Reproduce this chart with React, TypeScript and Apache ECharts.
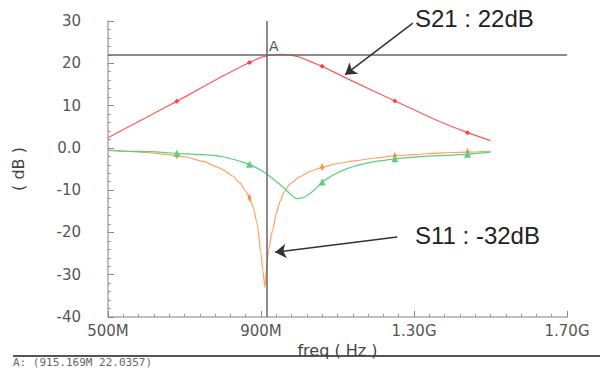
import React, { useEffect, useRef } from "react";
import * as echarts from "echarts";

// Frequency in MHz, values in dB
const freqS21 = [500, 550, 600, 650, 680, 700, 750, 800, 850, 870, 900, 925, 950, 975, 1000, 1030, 1060, 1100, 1150, 1200, 1250, 1300, 1350, 1400, 1440, 1500];
const valS21 = [2.4, 4.8, 7.2, 9.6, 11.0, 12.0, 14.5, 17.0, 19.3, 20.2, 21.4, 21.95, 22.1, 22.0, 21.5, 20.4, 19.3, 17.5, 15.3, 13.2, 11.1, 9.0, 6.9, 5.0, 3.6, 1.7];

const freqS11 = [500, 550, 600, 650, 680, 700, 750, 785, 800, 825, 845, 860, 870, 880, 890, 900, 905, 910, 915, 920, 930, 940, 950, 960, 975, 1000, 1030, 1060, 1100, 1150, 1200, 1250, 1300, 1350, 1400, 1440, 1500];
const valS11 = [-0.6, -0.8, -1.1, -1.5, -1.8, -2.1, -3.2, -4.5, -5.2, -6.6, -8.3, -10.2, -11.8, -14.2, -18, -25, -29, -33, -28, -24, -19.5, -15.5, -12.6, -10.5, -8.6, -6.9, -5.5, -4.6, -3.7, -3.0, -2.4, -1.9, -1.6, -1.3, -1.1, -1.0, -0.8];

const freqS22 = [500, 550, 600, 650, 680, 700, 750, 800, 850, 870, 900, 915, 940, 960, 980, 993, 1005, 1020, 1040, 1060, 1080, 1100, 1125, 1150, 1177, 1210, 1250, 1300, 1350, 1400, 1440, 1500];
const valS22 = [-0.6, -0.8, -0.9, -1.1, -1.3, -1.4, -1.6, -2.1, -3.3, -3.9, -5.3, -6.2, -8.0, -9.5, -11.2, -12.0, -11.9, -11.3, -9.9, -8.1, -6.9, -5.9, -4.9, -4.2, -3.6, -3.1, -2.6, -2.2, -1.9, -1.7, -1.5, -1.0];

const markerFreqs = [680, 870, 1060, 1250, 1440];

const xMajorTicks = [500, 900, 1300, 1700];
const xMinorStep = 40;
const yTickInterval = 10;

const cursorA = { freq: 915.169, dB: 22.0357 };
const s21Arrow = { from: [1297, 29.5], to: [1120, 17.3] };
const s11Arrow = { from: [1256, -21.1], to: [937, -24.7] };

const xMinorTicks: number[] = [];
for (let v = xMajorTicks[0]; v <= xMajorTicks[xMajorTicks.length - 1]; v += xMinorStep) {
  if (!xMajorTicks.includes(v)) xMinorTicks.push(v);
}

function buildData(freq: number[], vals: number[], symbol: string, size: any) {
  return freq.map((f, i) =>
    markerFreqs.includes(f)
      ? { value: [f, vals[i]], symbol, symbolSize: size }
      : { value: [f, vals[i]], symbol: "none" }
  );
}

const fmtX = (v: number) => (v < 1000 ? `${v}M` : `${(v / 1000).toFixed(2)}G`);
const fmtY = (v: number) => (v === 0 ? "0.0" : String(v));

const labelFont = "DejaVu Sans";

export default function App() {
  const ref = useRef<HTMLDivElement>(null);
  useEffect(() => {
    const chart = echarts.init(ref.current!, null, { renderer: "svg" });
    const arrowLine = (a: { from: number[]; to: number[] }) => [
      { coord: a.from, symbol: "none" },
      { coord: a.to, symbol: "arrow", symbolSize: 11 },
    ];
    const option: any = {
      animation: false,
      backgroundColor: "#ffffff",
      grid: { left: 108, right: 37, top: 21, bottom: 52 },
      xAxis: [
        {
          type: "value",
          min: 500,
          max: 1700,
          name: "freq ( Hz )",
          nameLocation: "middle",
          nameGap: 24,
          nameTextStyle: { fontFamily: labelFont, fontSize: 16, color: "#444" },
          splitLine: { show: false },
          axisLine: { onZero: false, lineStyle: { color: "#aaa", width: 1.5 } },
          axisTick: { inside: true, length: 6, customValues: xMajorTicks, lineStyle: { color: "#888" } },
          axisLabel: {
            customValues: xMajorTicks,
            formatter: fmtX,
            fontFamily: labelFont,
            fontSize: 15,
            color: "#555",
            margin: 6,
          },
        },
        {
          type: "value",
          min: 500,
          max: 1700,
          position: "bottom",
          splitLine: { show: false },
          axisLine: { show: false, onZero: false },
          axisLabel: { show: false },
          axisTick: { inside: true, length: 3, customValues: xMinorTicks, lineStyle: { color: "#999" } },
        },
      ],
      yAxis: {
        type: "value",
        min: -40,
        max: 30,
        interval: yTickInterval,
        name: "( dB )",
        nameLocation: "middle",
        nameGap: 82,
        nameTextStyle: { fontFamily: labelFont, fontSize: 16, color: "#444" },
        splitLine: { show: false },
        axisLine: { show: true, onZero: false, lineStyle: { color: "#aaa", width: 1.5 } },
        axisTick: { show: true, inside: true, length: 6, lineStyle: { color: "#888" } },
        minorTick: { show: true, splitNumber: 5, length: 3, lineStyle: { color: "#999" } },
        axisLabel: {
          formatter: fmtY,
          fontFamily: labelFont,
          fontSize: 15,
          color: "#555",
          margin: 27,
        },
      },
      series: [
        {
          name: "S21",
          type: "line",
          xAxisIndex: 0,
          data: buildData(freqS21, valS21, "diamond", 5),
          showSymbol: true,
          showAllSymbol: true,
          smooth: false,
          lineStyle: { color: "#ff5a5a", width: 1.2 },
          itemStyle: { color: "#ff4040" },
          z: 3,
          markLine: {
            silent: true,
            symbol: "none",
            label: { show: false },
            lineStyle: { color: "#666", width: 1.5, type: "solid" },
            data: [{ xAxis: cursorA.freq }, { yAxis: cursorA.dB }],
          },
          markPoint: {
            symbol: "circle",
            symbolSize: 1,
            itemStyle: { color: "rgba(0,0,0,0)" },
            label: {
              show: true,
              formatter: "A",
              color: "#555",
              fontFamily: labelFont,
              fontSize: 14,
              offset: [7, -9],
            },
            data: [{ coord: [cursorA.freq, cursorA.dB] }],
          },
        },
        {
          name: "S11",
          type: "line",
          xAxisIndex: 0,
          data: buildData(freqS11, valS11, "diamond", [4, 8]),
          showSymbol: true,
          showAllSymbol: true,
          smooth: 0.2,
          smoothMonotone: "x",
          lineStyle: { color: "#ffa066", width: 1.2 },
          itemStyle: { color: "#ff8c44" },
          z: 2,
          markLine: {
            silent: true,
            symbol: ["none", "arrow"],
            symbolSize: 11,
            label: { show: false },
            itemStyle: { color: "#222" },
            lineStyle: { color: "#333", width: 1.5, type: "solid" },
            data: [arrowLine(s21Arrow), arrowLine(s11Arrow)],
          },
        },
        {
          name: "S22",
          type: "line",
          xAxisIndex: 0,
          data: buildData(freqS22, valS22, "triangle", 7),
          showSymbol: true,
          showAllSymbol: true,
          smooth: 0.3,
          lineStyle: { color: "#5ccf80", width: 1.2 },
          itemStyle: { color: "#5ccf80" },
          z: 2,
        },
      ],
      graphic: [
        {
          type: "text",
          left: 415,
          top: 6,
          style: { text: "S21 : 22dB", fontFamily: "Liberation Sans", fontSize: 24, fill: "#222" },
        },
        {
          type: "text",
          left: 415,
          top: 223,
          style: { text: "S11 : -32dB", fontFamily: "Liberation Sans", fontSize: 24, fill: "#222" },
        },
        {
          type: "line",
          shape: { x1: 13, y1: 356, x2: 600, y2: 356 },
          style: { stroke: "#555", lineWidth: 2 },
        },
        {
          type: "text",
          left: 13,
          top: 357,
          style: { text: "A: (915.169M 22.0357)", fontFamily: "DejaVu Sans Mono", fontSize: 11, fill: "#666" },
        },
      ],
    };
    chart.setOption(option);
    return () => chart.dispose();
  }, []);
  return <div ref={ref} style={{ position: "fixed", left: 0, top: 0, width: 604, height: 369 }} />;
}
